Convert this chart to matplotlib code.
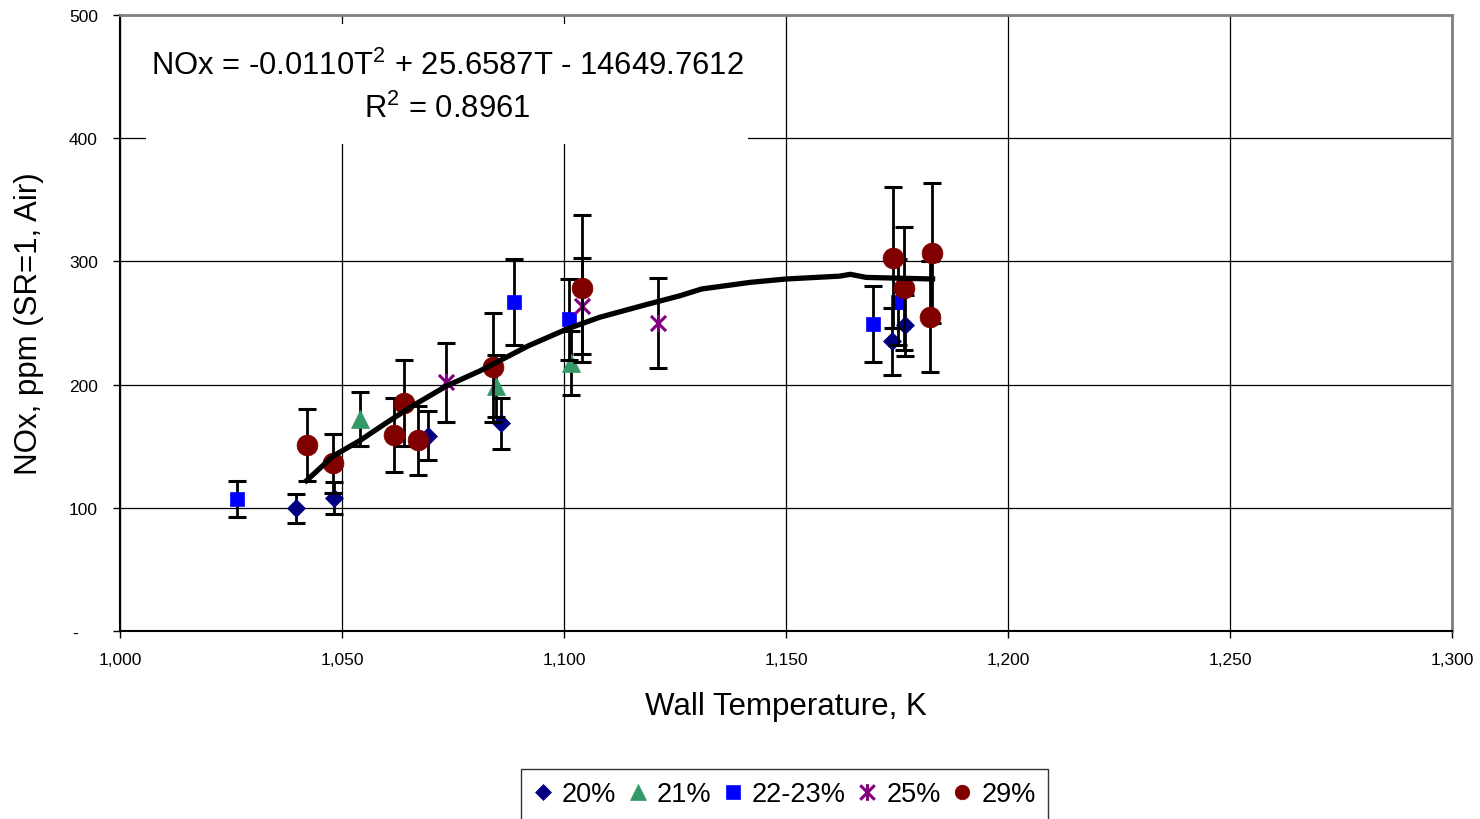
import matplotlib
matplotlib.use("Agg")
import matplotlib.pyplot as plt
from matplotlib.lines import Line2D
from matplotlib.patches import Rectangle
from matplotlib.path import Path

plt.rcParams['font.family'] = ['Liberation Sans', 'DejaVu Sans']
plt.rcParams['mathtext.fontset'] = 'custom'
plt.rcParams['mathtext.rm'] = 'Liberation Sans'
plt.rcParams['mathtext.it'] = 'Liberation Sans'
plt.rcParams['mathtext.bf'] = 'Liberation Sans'

# ---------------- data ----------------
T20 = [1039.6, 1048.2, 1069.3, 1085.7, 1173.8, 1176.8]
N20 = [99.5, 108, 158.5, 168.5, 235, 248]
E20 = [11.5, 13, 20, 21, 27, 25]

T21 = [1054.1, 1084.7, 1101.5]
N21 = [172, 199, 217.5]
E21 = [22, 25, 26]

T22 = [1026.4, 1088.7, 1101.1, 1169.6, 1175.3]
N22 = [107, 267, 253, 249, 267]
E22 = [14.5, 35, 33, 31, 35]

T25 = [1073.5, 1104.1, 1121.2]
N25 = [202, 263.5, 250]
E25 = [32, 39, 36.5]

T29 = [1042, 1048, 1061.7, 1064, 1067, 1083.9, 1104.1, 1174.2, 1176.6, 1182.4, 1182.8]
N29 = [151, 136, 159, 185, 155, 214, 278, 303, 278, 255, 307]
E29 = [29, 24, 30, 35, 28, 44, 60, 57, 50, 45, 57]

fit_T = [1042, 1048, 1054, 1060, 1066, 1073.6, 1081, 1092, 1100.6, 1108, 1118.6,
         1126, 1131, 1142, 1150, 1162, 1164.5, 1168, 1183]
fit_N = [122, 142, 154.5, 169, 183, 199, 211, 231.5, 245, 254.6, 265,
         272, 277.6, 283, 285.7, 288, 289.5, 287, 285.7]

series_labels = ['20%', '21%', '22-23%', '25%', '29%']
x_ticks = [1000, 1050, 1100, 1150, 1200, 1250, 1300]
x_ticklabels = ['1,000', '1,050', '1,100', '1,150', '1,200', '1,250', '1,300']
y_ticks = [0, 100, 200, 300, 400, 500]
y_ticklabels = ['-    ', '100', '200', '300', '400', '500']

equation = r"NOx = -0.0110T$^{2}$ + 25.6587T - 14649.7612"
r2_text = r"R$^{2}$ = 0.8961"

# ---------------- styles ----------------
star_path = Path([(-1, -1), (1, 1), (-1, 1), (1, -1), (0, -1.15), (0, 1.15)],
                 [Path.MOVETO, Path.LINETO, Path.MOVETO, Path.LINETO, Path.MOVETO, Path.LINETO])

styles = [
    dict(marker='D', ms=9, mfc='#000080', mec='#000080', mew=0.5),
    dict(marker='^', ms=12.5, mfc='#339966', mec='#339966', mew=0.5),
    dict(marker='s', ms=10.5, mfc='#0000FF', mec='#0000FF', mew=0.5),
    dict(marker=star_path, ms=12.5, mfc='none', mec='#800080', mew=2.2),
    dict(marker='o', ms=15, mfc='#800000', mec='#800000', mew=0.5),
]
legend_ms = [8.5, 12, 10, 12, 10.5]

fig = plt.figure(figsize=(14.8, 8.2), dpi=100)
ax = fig.add_axes([0.0811, 0.2293, 0.9, 0.7512])
ax.set_axisbelow(True)

data = [(T20, N20, E20), (T21, N21, E21), (T22, N22, E22), (T25, N25, E25), (T29, N29, E29)]
z = 3
for (T, N, E), st in zip(data, styles):
    ax.errorbar(T, N, yerr=E, fmt='none', ecolor='black', elinewidth=2.0,
                capsize=6.8, capthick=2.2, zorder=z)
    ax.plot(T, N, linestyle='none', zorder=z + 0.5, **st)
    z += 1

ax.plot(fit_T, fit_N, color='black', lw=3.8, zorder=20, solid_joinstyle='round')

ax.set_xlim(1000, 1300)
ax.set_ylim(0, 500)
ax.set_xticks(x_ticks)
ax.set_xticklabels(x_ticklabels)
ax.set_yticks(y_ticks)
ax.set_yticklabels(y_ticklabels)
ax.tick_params(axis='both', direction='out', length=5, width=1, labelsize=12.5, color='black')
ax.tick_params(axis='x', pad=10)
ax.tick_params(axis='y', pad=11)

ax.grid(True, color='black', lw=0.9)
for s in ['left', 'bottom']:
    ax.spines[s].set_color('black')
    ax.spines[s].set_linewidth(1.5)
for s in ['top', 'right']:
    ax.spines[s].set_color('#808080')
    ax.spines[s].set_linewidth(2)

ax.set_xlabel('Wall Temperature, K', fontsize=22.5)
ax.set_ylabel('NOx, ppm (SR=1, Air)', fontsize=22.5)
ax.xaxis.set_label_coords(0.5, -0.098)
ax.yaxis.set_label_coords(-0.057, 0.5)

# white box behind the equation
ax.add_patch(Rectangle((0.0195, 0.7906), 0.452, 0.195, transform=ax.transAxes,
                       facecolor='white', edgecolor='none', zorder=1))
ax.text(0.2455, 0.919, equation, transform=ax.transAxes, ha='center', va='center',
        fontsize=22.3, zorder=2)
ax.text(0.2455, 0.848, r2_text, transform=ax.transAxes, ha='center', va='center',
        fontsize=22.3, zorder=2)

handles = []
for st, ms in zip(styles, legend_ms):
    d = dict(st)
    d['ms'] = ms
    handles.append(Line2D([], [], linestyle='none', **d))
leg = fig.legend(handles, series_labels, loc='center', bbox_to_anchor=(0.530, 0.030),
                 ncol=5, fontsize=19.5, frameon=True, fancybox=False,
                 handlelength=0.7, handletextpad=0.35, columnspacing=0.45,
                 borderpad=0.45, borderaxespad=0)
leg.get_frame().set_edgecolor('black')
leg.get_frame().set_linewidth(1.0)

fig.savefig('out.png', dpi=100)
